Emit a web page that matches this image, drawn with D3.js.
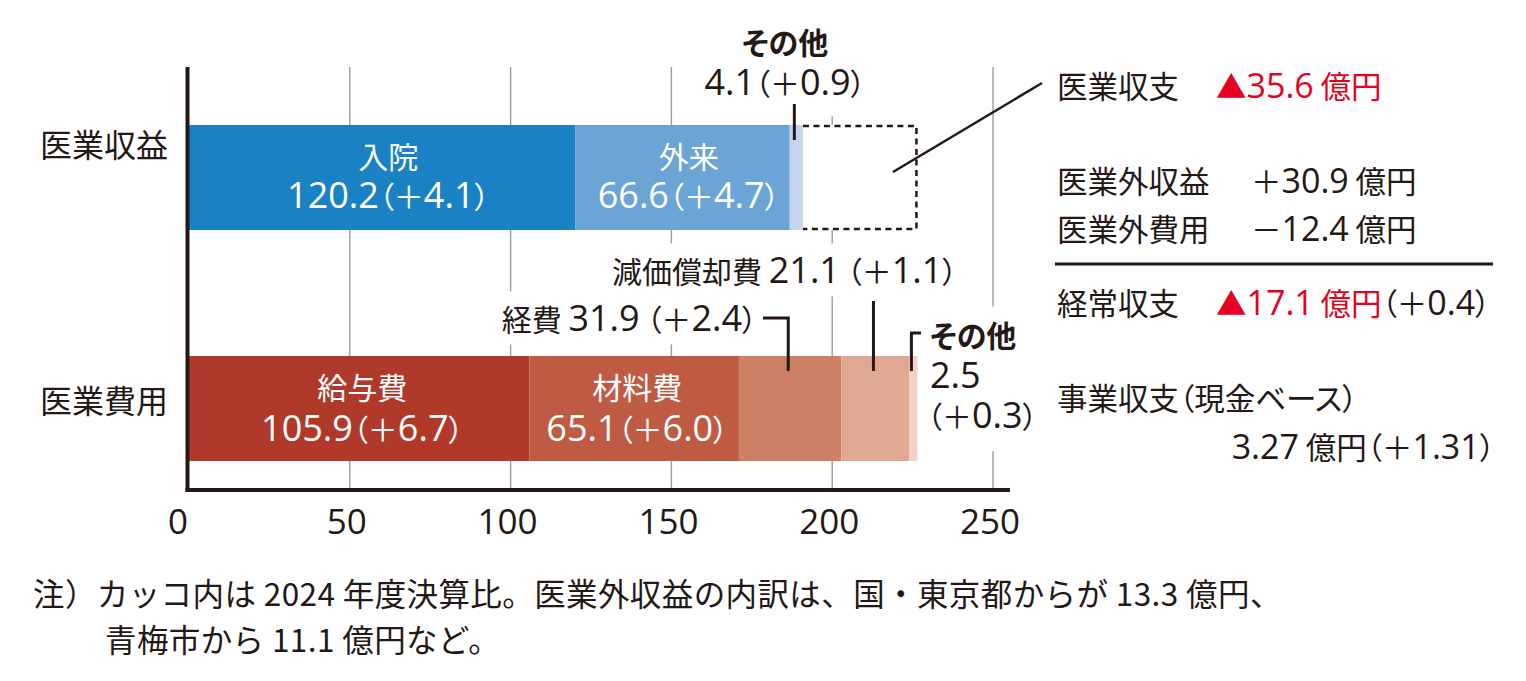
<!DOCTYPE html>
<html lang="ja">
<head>
<meta charset="utf-8">
<script src="https://cdn.jsdelivr.net/npm/d3@7"></script>
<style>
  body { margin: 0; background: #fff; }
  svg text {
    font-family: "Noto Sans CJK JP", "Noto Sans", sans-serif;
    font-feature-settings: "palt";
    fill: #231815;
  }
</style>
</head>
<body>
<svg id="chart" width="1526" height="681"></svg>
<script>
// ========== Data ==========
const rowNames = ["医業収益", "医業費用"];

const revenueItems = ["入院", "外来", "その他"];
const revenueValues = [120.2, 66.6, 4.1];
const revenueChanges = [4.1, 4.7, 0.9];

const costItems = ["給与費", "材料費", "経費", "減価償却費", "その他"];
const costValues = [105.9, 65.1, 31.9, 21.1, 2.5];
const costChanges = [6.7, 6.0, 2.4, 1.1, 0.3];

const xTicks = [0, 50, 100, 150, 200, 250];

const summaryLabels = ["医業収支", "医業外収益", "医業外費用", "経常収支", "事業収支（現金ベース）"];
const summaryValues = [-35.6, 30.9, -12.4, -17.1, 3.27];
const summaryChanges = [null, null, null, 0.4, 1.31];

const noteLines = [
  "注）カッコ内は 2024 年度決算比。医業外収益の内訳は、国・東京都からが 13.3 億円、",
  "青梅市から 11.1 億円など。"
];

const revenueColors = ["#1a82c4", "#6aa5d6", "#c3d6ee"];
const costColors = ["#b0392a", "#bf5b43", "#cd8066", "#dfa891", "#f1d2c5"];
const red = "#e60021";
const ink = "#231815";

// ========== Setup ==========
const svg = d3.select("#chart");
const fmt1 = d3.format(".1f");
const fmt2 = d3.format(".2f");
const change = (v) => `（＋${fmt1(v)}）`;

const x = d3.scaleLinear().domain([0, 250]).range([189, 993]);
const y = d3.scalePoint().domain(rowNames).range([177.5, 408.5]);
const barH = 105;
const gridTop = 67;
const axisY = 490;
const latin = "'Open Sans', 'Noto Sans', sans-serif";

function stack(values) {
  const ends = d3.cumsum(values);
  return values.map((v, i) => ({ start: ends[i] - v, end: ends[i], value: v, i }));
}
const revenueStack = stack(revenueValues);
const costStack = stack(costValues);

// mixed text: Japanese in Noto CJK, numbers in a larger Latin face.
// one <text>, one or more lines; a line is a string or [{s, c}]
function rich(g, px, cy, content, opt = {}) {
  const size = opt.size || 30;
  const lsize = opt.lsize || size * 1.15;
  const lines = opt.lines ? content : [content];
  const ys = opt.lines ? cy : [cy];
  const xs = Array.isArray(px) ? px : lines.map(() => px);
  const t = g.append("text")
    .attr("text-anchor", opt.anchor || "start")
    .attr("font-size", size)
    .attr("font-weight", opt.weight || 400)
    .attr("letter-spacing", opt.spacing || null)
    .style("font-feature-settings", opt.plain ? "normal" : null);
  lines.forEach((line, li) => {
    const segs = typeof line === "string" ? [{ s: line, c: opt.color || ink }] : line;
    let first = true;
    segs.forEach((seg) => {
      seg.s.split(/([0-9.]+)/).filter((p) => p.length).forEach((p) => {
        const num = !opt.plain && /^[0-9.]+$/.test(p);
        const ts = t.append("tspan")
          .style("font-family", num ? latin : null)
          .attr("font-size", num ? lsize : size)
          .style("fill", seg.c || opt.color || ink)
          .text(p);
        if (first) {
          ts.attr("x", xs[li]).attr("y", ys[li] + 0.38 * size);
          first = false;
        }
      });
    });
  });
  if (opt.knock) {
    const b = t.node().getBBox();
    const pad = opt.pad || [2, 2];
    g.insert("rect", () => t.node())
      .attr("x", b.x - 6).attr("y", b.y - pad[0])
      .attr("width", b.width + 12).attr("height", b.height + pad[0] + pad[1])
      .attr("fill", "#fff");
  }
  return t;
}

// ========== Grid ==========
svg.append("g")
  .selectAll("line")
  .data(xTicks.slice(1))
  .join("line")
  .attr("x1", (d) => x(d)).attr("x2", (d) => x(d))
  .attr("y1", gridTop).attr("y2", axisY)
  .attr("stroke", "#9c9c9c")
  .attr("stroke-width", 1.4);

const labels = svg.append("g");

// ========== Bars ==========
const bars = svg.append("g");
const y1 = y("医業収益"), y2 = y("医業費用");

// dotted box: gap between revenue and total cost
const costTotal = d3.sum(costValues);
const revTotal = d3.sum(revenueValues);
bars.append("rect")
  .attr("x", x(revTotal)).attr("y", y1 - barH / 2)
  .attr("width", x(costTotal) - x(revTotal)).attr("height", barH)
  .attr("fill", "#fff");
bars.append("path")
  .attr("d", `M${x(revTotal)},${y1 - barH / 2 + 1}H${x(costTotal) - 1}V${y1 + barH / 2 - 1}H${x(revTotal)}`)
  .attr("fill", "none")
  .attr("stroke", ink)
  .attr("stroke-width", 2.5)
  .attr("stroke-dasharray", "6,4.5");

bars.selectAll("rect.rev")
  .data(revenueStack)
  .join("rect")
  .attr("class", "rev")
  .attr("x", (d) => x(d.start))
  .attr("width", (d) => x(d.end) - x(d.start))
  .attr("y", y1 - barH / 2)
  .attr("height", barH)
  .attr("fill", (d) => revenueColors[d.i]);

bars.selectAll("rect.cost")
  .data(costStack)
  .join("rect")
  .attr("class", "cost")
  .attr("x", (d) => x(d.start))
  .attr("width", (d) => x(d.end) - x(d.start))
  .attr("y", y2 - barH / 2)
  .attr("height", barH)
  .attr("fill", (d) => costColors[d.i]);

// ========== Axes ==========
svg.append("line")
  .attr("x1", 187.5).attr("x2", 187.5)
  .attr("y1", gridTop).attr("y2", axisY + 2)
  .attr("stroke", ink).attr("stroke-width", 4);
svg.append("line")
  .attr("x1", 185.5).attr("x2", 1010)
  .attr("y1", axisY).attr("y2", axisY)
  .attr("stroke", ink).attr("stroke-width", 4);

svg.append("g")
  .selectAll("text")
  .data(xTicks)
  .join("text")
  .attr("x", (d) => (d === 0 ? x(d) - 11 : x(d) - 3))
  .attr("y", 534)
  .attr("text-anchor", "middle")
  .attr("font-size", 35)
  .style("font-family", latin)
  .text((d) => d);

rich(svg, 168, 145, rowNames[0], { anchor: "end", size: 32 });
rich(svg, 168, 401, rowNames[1], { anchor: "end", size: 32 });

// ========== Inside labels ==========
const inner = svg.append("g");
[0, 1].forEach((i) => {
  const d = revenueStack[i];
  const cx = (x(d.start) + x(d.end)) / 2 + 6;
  rich(inner, cx, [y1 - 21, y1 + 19],
    [revenueItems[i], fmt1(revenueValues[i]) + change(revenueChanges[i])],
    { anchor: "middle", color: "#fff", lsize: 36, lines: true });
});
[0, 1].forEach((i) => {
  const d = costStack[i];
  const cx = (x(d.start) + x(d.end)) / 2 + 3;
  rich(inner, cx, [y2 - 21, y2 + 21],
    [costItems[i], fmt1(costValues[i]) + change(costChanges[i])],
    { anchor: "middle", color: "#fff", lsize: 36, lines: true });
});

// ========== Outside labels with leaders ==========
const mid = (d) => x((d.start + d.end) / 2) - 2;
const leader = svg.append("g")
  .attr("fill", "none")
  .attr("stroke", ink)
  .attr("stroke-width", 3);

// revenue その他
const revOther = rich(labels, 785, [43, 84],
  [revenueItems[2], fmt1(revenueValues[2]) + change(revenueChanges[2])],
  { anchor: "middle", lsize: 36, lines: true, knock: true, pad: [2, 10] });
revOther.select("tspan").attr("font-weight", 700);
leader.append("path").attr("d", `M${mid(revenueStack[2])},104V140`);

// 経費
rich(labels, 757, 320, `${costItems[2]} ${fmt1(costValues[2])} ${change(costChanges[2])}`, { anchor: "end", knock: true, lsize: 36 });
leader.append("path").attr("d", `M763,318H${mid(costStack[2])}V371`);

// 減価償却費
rich(labels, 612, 272, `${costItems[3]} ${fmt1(costValues[3])} ${change(costChanges[3])}`, { knock: true, lsize: 36 });
leader.append("path").attr("d", `M${mid(costStack[3])},301V371`);

// cost その他
const costOther = rich(labels, [930, 930, 927], [336, 377, 417],
  [costItems[4], fmt1(costValues[4]), change(costChanges[4])],
  { lsize: 36, lines: true, knock: true, pad: [6, 12] });
costOther.select("tspan").attr("font-weight", 700);
leader.append("path").attr("d", `M921,333H${mid(costStack[4])}V371`);

// pointer from the dotted gap to 医業収支
svg.append("line")
  .attr("x1", 893).attr("y1", 172)
  .attr("x2", 1042).attr("y2", 83)
  .attr("stroke", ink).attr("stroke-width", 2.5);

// ========== Summary panel ==========
const panel = svg.append("g");
const rowY = [86, 181, 229, 303, 398];
const ps = { size: 30.5, lsize: 34 };

summaryLabels.forEach((lab, i) => {
  rich(panel, 1057, rowY[i], lab, ps);
});

// 医業収支 / 経常収支 : deficits in red
[0, 3].forEach((i) => {
  const segs = [{ s: `▲${fmt1(Math.abs(summaryValues[i]))} 億円`, c: red }];
  if (summaryChanges[i] !== null) segs.push({ s: `（＋${fmt1(summaryChanges[i])}）`, c: ink });
  rich(panel, 1216, rowY[i], segs, ps);
});

// 医業外収益 / 費用
[1, 2].forEach((i) => {
  const sign = summaryValues[i] > 0 ? "＋" : "－";
  rich(panel, 1251, rowY[i], `${sign}${fmt1(Math.abs(summaryValues[i]))} 億円`, ps);
});

panel.append("line")
  .attr("x1", 1055).attr("x2", 1493)
  .attr("y1", 264).attr("y2", 264)
  .attr("stroke", ink).attr("stroke-width", 3);

rich(panel, 1495, 447, `${fmt2(summaryValues[4])} 億円（＋${fmt2(summaryChanges[4])}）`, { ...ps, anchor: "end" });

// ========== Note ==========
rich(svg, [33, 105], [594, 640], noteLines, { size: 31.5, plain: true, lines: true, spacing: 0.4 });
</script>
</body>
</html>
